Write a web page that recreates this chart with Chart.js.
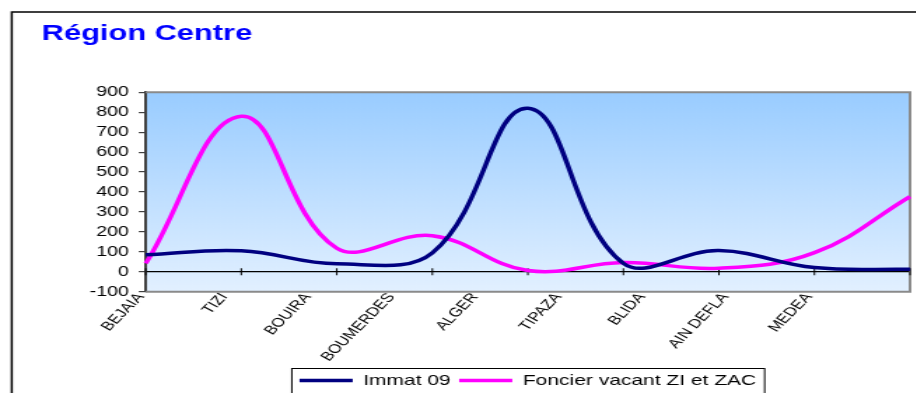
<!DOCTYPE html>
<html>
<head>
<meta charset="utf-8">
<script src="https://cdn.jsdelivr.net/npm/chart.js@4.4.1/dist/chart.umd.min.js"></script>
<style>
  html, body { margin: 0; padding: 0; background: #fff; overflow: hidden; width: 916px; height: 393px; }
  #chart { display: block; }
</style>
</head>
<body>
<!-- the drawing surface is laid out narrower and widened on screen -->
<canvas id="chart" width="660" height="398" style="width:924px;height:398px"></canvas>
<script>
// Wilayas of the central region
const categories = ['BEJAIA', 'TIZI', 'BOUIRA', 'BOUMERDES', 'ALGER', 'TIPAZA', 'BLIDA', 'AIN DEFLA', 'MEDEA'];

// Series
const immat09 = [85, 105, 40, 95, 820, 42, 106, 21, 12];
const foncierVacant = [42, 780, 118, 181, 6, 46, 18, 96, 377];

// Value axis
const yMin = -100;
const yMax = 900;
const yStep = 100;

// Span of the axis that carries the category names (their spacing is tighter than the plot's)
const labelAxisMin = 0.06;
const labelAxisMax = 9.21;

Chart.defaults.font.family = "'Liberation Sans', Arial, sans-serif";
Chart.defaults.color = '#000';

// Background, frames and the small category marks on the zero line
const plotDecor = {
  id: 'plotDecor',
  beforeDraw(chart) {
    const { ctx, chartArea: a } = chart;
    ctx.save();
    ctx.strokeStyle = '#000';
    ctx.lineWidth = 1.5;
    ctx.strokeRect(8.4, 12, chart.width, chart.height);
    const g = ctx.createLinearGradient(0, a.top, 0, a.bottom);
    g.addColorStop(0, '#99CCFF');
    g.addColorStop(1, '#E2F0FF');
    ctx.fillStyle = g;
    ctx.fillRect(a.left, a.top, a.right - a.left, a.bottom - a.top);
    ctx.restore();
  },
  beforeDatasetsDraw(chart) {
    const { ctx, chartArea: a, scales } = chart;
    const x = scales.x, y = scales.y;
    ctx.save();
    ctx.strokeStyle = '#8a8a8a';
    ctx.lineWidth = 2;
    ctx.beginPath();
    ctx.moveTo(a.left, a.top);
    ctx.lineTo(a.right, a.top);
    ctx.lineTo(a.right, a.bottom);
    ctx.lineTo(a.left, a.bottom);
    ctx.stroke();
    const y0 = y.getPixelForValue(0);
    ctx.strokeStyle = '#000';
    ctx.lineWidth = 1;
    categories.forEach((c, i) => {
      const px = x.getPixelForValue(i);
      ctx.beginPath();
      ctx.moveTo(px, y0 - 3.5);
      ctx.lineTo(px, y0 + 3.5);
      ctx.stroke();
    });
    ctx.restore();
  },
  afterDraw(chart) {
    const boxes = chart.legend && chart.legend.legendHitBoxes;
    if (!boxes || !boxes.length) return;
    const first = boxes[0], last = boxes[boxes.length - 1];
    const cy = first.top + first.height / 2;
    const { ctx } = chart;
    ctx.save();
    ctx.strokeStyle = '#000';
    ctx.lineWidth = 1;
    ctx.strokeRect(first.left - 5.5, cy - 12, last.left + last.width + 6 - (first.left - 5.5), 40);
    ctx.restore();
  }
};

new Chart(document.getElementById('chart'), {
  type: 'line',
  data: {
    labels: categories,
    datasets: [
      {
        label: 'Immat 09',
        data: immat09,
        borderColor: '#000080',
        backgroundColor: '#000080',
        borderWidth: 3.5,
        pointRadius: 0,
        pointStyle: 'line',
        tension: 0.4,
        fill: false
      },
      {
        label: 'Foncier vacant ZI et ZAC',
        data: foncierVacant,
        borderColor: '#FF00FF',
        backgroundColor: '#FF00FF',
        borderWidth: 3.5,
        pointRadius: 0,
        pointStyle: 'line',
        tension: 0.4,
        fill: false
      }
    ]
  },
  options: {
    responsive: false,
    animation: false,
    devicePixelRatio: 1,
    events: [],
    layout: { padding: { top: 20.4, left: 29.8, right: 10, bottom: 0 } },
    plugins: {
      title: {
        display: true,
        text: 'Région Centre',
        align: 'start',
        color: '#0000FF',
        font: { size: 22, weight: 'bold' },
        padding: { top: 0, bottom: 45.5 }
      },
      legend: {
        display: true,
        position: 'bottom',
        fullSize: false,
        labels: {
          usePointStyle: true,
          pointStyleWidth: 38,
          padding: 6,
          color: '#000',
          font: { size: 15 }
        }
      },
      tooltip: { enabled: false }
    },
    scales: {
      x: {
        display: false
      },
      xNames: {
        type: 'linear',
        position: 'bottom',
        min: labelAxisMin,
        max: labelAxisMax,
        afterBuildTicks(s) { s.ticks = categories.map((c, i) => ({ value: i })); },
        ticks: {
          callback: v => categories[v],
          color: '#000',
          font: { size: 12.5 },
          minRotation: 54,
          maxRotation: 54,
          autoSkip: false,
          padding: -1.5
        },
        grid: { display: false, drawTicks: false },
        border: { display: false },
        afterFit(s) { s.height = 75.3; }
      },
      y: {
        min: yMin,
        max: yMax,
        ticks: { stepSize: yStep, color: '#000', font: { size: 14 }, padding: 7 },
        grid: {
          color: c => (c.tick && c.tick.value === 0 ? '#000' : 'rgba(0,0,0,0)'),
          lineWidth: 1.2,
          drawTicks: true,
          tickLength: 5,
          tickColor: '#404040',
          tickWidth: 1.2
        },
        border: { display: true, color: '#404040', width: 2 },
        afterFit(s) { s.width = 74.3; }
      }
    }
  },
  plugins: [plotDecor]
});
</script>
</body>
</html>
